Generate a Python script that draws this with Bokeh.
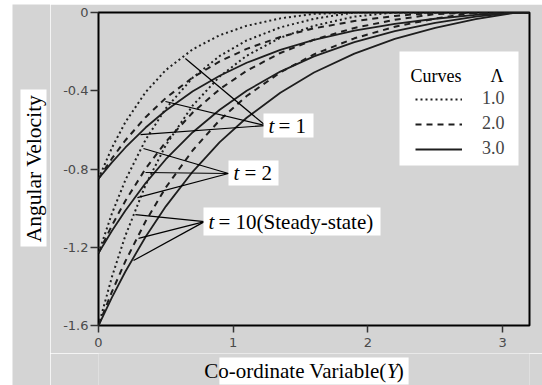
from math import pi

from bokeh.embed import file_html
from bokeh.layouts import column, row
from bokeh.models import (BoxAnnotation, FixedTicker, Label, Legend,
                          LegendItem, Range1d, Spacer)
from bokeh.plotting import figure
from bokeh.resources import INLINE

# ---- data -------------------------------------------------------------
y_coord = [0, 0.1, 0.2, 0.35, 0.5, 0.7, 0.9, 1.1, 1.35, 1.6, 1.9, 2.2, 2.5, 2.8, 3.1, 3.2]

# Lambda = 1.0 (dotted)
w_l1_t1 = [-0.85, -0.691, -0.560, -0.407, -0.294, -0.188, -0.116, -0.068, -0.030, -0.007, 0, 0, 0, 0, 0, 0]
w_l1_t2 = [-1.23, -1.027, -0.856, -0.650, -0.490, -0.333, -0.222, -0.143, -0.076, -0.032, 0, 0, 0, 0, 0, 0]
w_l1_t10 = [-1.6, -1.351, -1.140, -0.881, -0.678, -0.475, -0.327, -0.221, -0.129, -0.068, -0.021, 0, 0, 0, 0, 0]
# Lambda = 2.0 (dashed)
w_l2_t1 = [-0.85, -0.746, -0.653, -0.535, -0.437, -0.332, -0.250, -0.186, -0.125, -0.081, -0.044, -0.018, 0, 0, 0, 0]
w_l2_t2 = [-1.23, -1.088, -0.962, -0.798, -0.661, -0.511, -0.392, -0.298, -0.207, -0.139, -0.079, -0.037, -0.008, 0, 0, 0]
w_l2_t10 = [-1.6, -1.427, -1.271, -1.067, -0.894, -0.704, -0.550, -0.427, -0.306, -0.214, -0.132, -0.073, -0.031, 0, 0, 0]
# Lambda = 3.0 (solid)
w_l3_t1 = [-0.85, -0.766, -0.690, -0.588, -0.501, -0.403, -0.323, -0.257, -0.191, -0.140, -0.093, -0.058, -0.032, -0.012, 0, 0]
w_l3_t2 = [-1.23, -1.116, -1.012, -0.872, -0.750, -0.612, -0.497, -0.400, -0.302, -0.224, -0.151, -0.095, -0.053, -0.021, 0, 0]
w_l3_t10 = [-1.6, -1.456, -1.324, -1.146, -0.991, -0.813, -0.663, -0.538, -0.410, -0.307, -0.210, -0.135, -0.078, -0.034, 0, 0]

lambda_labels = ["1.0", "2.0", "3.0"]

x_ticks = [0, 1, 2, 3]
x_tick_labels = ["0", "1", "2", "3"]
y_ticks = [0, -0.4, -0.8, -1.2, -1.6]
y_tick_labels = ["0", "-0.4", "-0.8", "-1.2", "-1.6"]

# leader lines from each time label to its three curves
lead_t1_from = (1.240, -0.578)
lead_t1_to_x = [0.645, 0.497, 0.312]
lead_t1_to_y = [-0.235, -0.455, -0.624]
lead_t2_from = (0.965, -0.823)
lead_t2_to_x = [0.334, 0.349, 0.289]
lead_t2_to_y = [-0.695, -0.818, -0.946]
lead_t10_from = (0.787, -1.069)
lead_t10_to_x = [0.274, 0.297, 0.260]
lead_t10_to_y = [-1.033, -1.155, -1.268]

# ---- layout (page pixels) ---------------------------------------------
X_MIN, X_MAX = 0.0, 3.2
Y_MIN, Y_MAX = -1.6, 0.0
PAGE_W, PAGE_H = 542, 385
OFF_L, OFF_T = 12, 4              # grey panel starts here
SPLIT_X = 50                      # y-title strip | main plot
SPLIT_Y = 353                     # main plot / x-title strip
FR_L, FR_T, FR_R, FR_B = 98, 12, 529, 325   # frame edges

BG = "#d4d4d4"
INK = "#1e1e1e"
SERIF = "Liberation Serif"


def dx(px):
    return X_MIN + (px - FR_L) * (X_MAX - X_MIN) / (FR_R - FR_L)


def dy(py):
    return Y_MAX - (py - FR_T) * (Y_MAX - Y_MIN) / (FR_B - FR_T)


def strip(l, t, r, b):
    """A bare grey panel whose data space is page pixels (y downward)."""
    f = figure(width=r - l, height=b - t, x_range=Range1d(l, r), y_range=Range1d(b, t),
               x_axis_type=None, y_axis_type=None, output_backend="svg",
               toolbar_location=None, min_border=0, outline_line_color=None,
               background_fill_color=BG, border_fill_color=BG)
    return f


main_w = PAGE_W - SPLIT_X
main_h = SPLIT_Y - OFF_T
p = figure(width=main_w, height=main_h, x_range=(X_MIN, X_MAX), y_range=(Y_MIN, Y_MAX),
           output_backend="svg", toolbar_location=None,
           min_border_left=FR_L - SPLIT_X, min_border_top=FR_T - OFF_T,
           min_border_right=PAGE_W - FR_R, min_border_bottom=SPLIT_Y - FR_B,
           background_fill_color=BG, border_fill_color=BG,
           outline_line_color="black", outline_line_width=2)
p.grid.visible = False

for ax in (p.xaxis[0], p.yaxis[0]):
    ax.axis_line_color = None
    ax.major_tick_in = 0
    ax.minor_tick_line_color = None
    ax.major_tick_line_color = "#333333"
    ax.major_tick_line_width = 1.5
    ax.major_label_text_font = "DejaVu Sans"
    ax.major_label_text_font_size = "13px"
    ax.major_label_text_color = "#4a4a4a"

p.xaxis.ticker = FixedTicker(ticks=x_ticks)
p.xaxis.major_label_overrides = dict(zip(x_ticks, x_tick_labels))
p.xaxis.major_tick_out = 7
p.xaxis.major_label_standoff = 5
p.yaxis.ticker = FixedTicker(ticks=y_ticks)
p.yaxis.major_label_overrides = dict(zip(y_ticks, y_tick_labels))
p.yaxis.major_tick_out = 8
p.yaxis.major_label_standoff = 2

# ---- curves -----------------------------------------------------------
styles = {
    "dot": dict(line_dash="2 3", line_width=2.0),
    "dash": dict(line_dash="6 5", line_width=2.0),
    "solid": dict(line_dash="solid", line_width=1.8),
}
series = [
    (w_l1_t1, "dot"), (w_l1_t2, "dot"), (w_l1_t10, "dot"),
    (w_l2_t1, "dash"), (w_l2_t2, "dash"), (w_l2_t10, "dash"),
    (w_l3_t1, "solid"), (w_l3_t2, "solid"), (w_l3_t10, "solid"),
]
rends = []
for ys, st in series:
    rends.append(p.line(y_coord, ys, line_color=INK, **styles[st]))

# leader lines
for (fx, fy), tx, ty in ((lead_t1_from, lead_t1_to_x, lead_t1_to_y),
                         (lead_t2_from, lead_t2_to_x, lead_t2_to_y),
                         (lead_t10_from, lead_t10_to_x, lead_t10_to_y)):
    p.segment(x0=[fx] * len(tx), y0=[fy] * len(ty), x1=tx, y1=ty,
              line_color="black", line_width=1.2)


# ---- label boxes ------------------------------------------------------
def box(fig, l, t, r, b):
    fig.add_layout(BoxAnnotation(left=l, right=r, top=t, bottom=b,
                                 fill_color="white", fill_alpha=1, line_color=None))


def text(fig, x, y, s, size="21px", style="normal", align="left", **kw):
    fig.add_layout(Label(x=x, y=y, text=s, text_font=SERIF, text_font_size=size,
                         text_font_style=style, text_align=align, text_baseline="middle",
                         text_color="black", **kw))


def pbox(l, t, r, b):
    box(p, dx(l), dy(t), dx(r), dy(b))


def ptext(px, py, s, **kw):
    text(p, dx(px), dy(py), s, **kw)


pbox(263, 113, 313, 137)
ptext(268, 125, "t", style="italic")
ptext(278, 125, "= 1")

pbox(228, 160, 278, 185)
ptext(233, 172.5, "t", style="italic")
ptext(244, 172.5, "= 2")

pbox(203, 207, 380, 235)
ptext(208, 221, "t", style="italic")
ptext(218, 221, "= 10(Steady-state)")

# legend
pbox(399, 51, 518, 165)
ptext(410, 75, "Curves", size="18px")
ptext(496.5, 75, "\u039b", size="18px", align="center")
legend = Legend(items=[LegendItem(label=lab, renderers=[rends[i * 3]])
                       for i, lab in enumerate(lambda_labels)],
                location=(415 - FR_L, FR_B - 159), padding=0, spacing=4, margin=0,
                glyph_width=47, glyph_height=20, label_height=20, label_standoff=20,
                label_text_font=SERIF, label_text_font_size="18px",
                background_fill_alpha=0, border_line_color=None)
p.add_layout(legend)

# ---- axis titles ------------------------------------------------------
ytitle = strip(OFF_L, OFF_T, SPLIT_X, PAGE_H)
box(ytitle, 20, 89, 46, 246)
text(ytitle, 33, 168, "Angular Velocity", size="21.5px", align="center", angle=pi / 2)

xtitle = strip(SPLIT_X, SPLIT_Y, PAGE_W, PAGE_H)
box(xtitle, 188, 357, 404, 384)
text(xtitle, 379, 370, "Co-ordinate Variable(", align="right")
text(xtitle, 379, 370, "Y", style="italic")
text(xtitle, 390.5, 370, ")")

page = row(Spacer(width=OFF_L),
           column(Spacer(height=OFF_T), row(ytitle, column(p, xtitle))))
open("out.html", "w").write(file_html(page, INLINE))
